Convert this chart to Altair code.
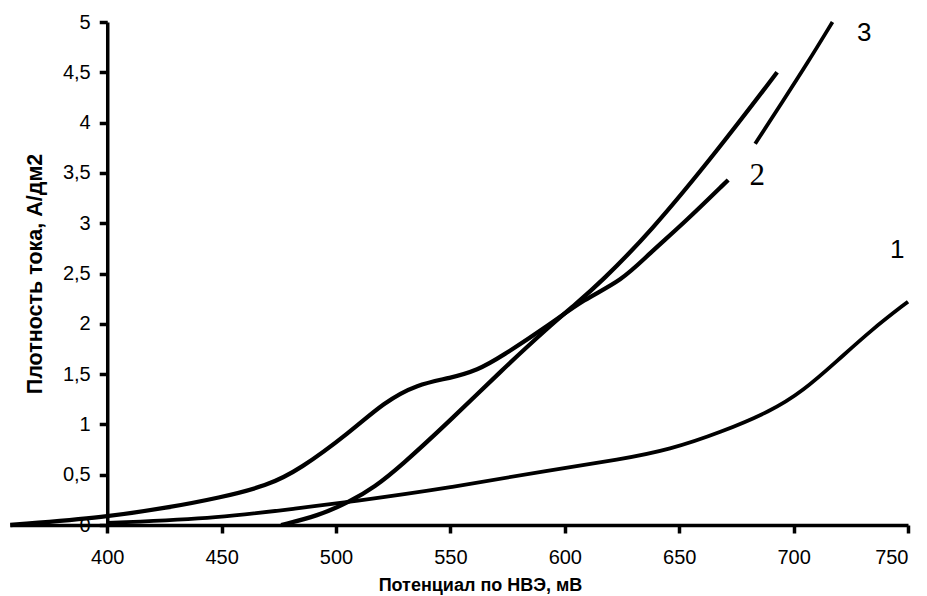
import altair as alt
import pandas as pd

# Curve 1
c1_x = [400, 450, 484, 506, 550, 594, 624, 646, 668, 690, 704, 719, 734, 750]
c1_y = [0.02, 0.07, 0.17, 0.23, 0.37, 0.55, 0.65, 0.75, 0.92, 1.13, 1.33, 1.63, 1.94, 2.22]

# Curve with shoulder (lower part, ends at label "2")
c2_x = [357.6, 400, 426, 449, 470, 484, 506, 521, 535.5, 550, 562, 572, 594, 608, 625, 637, 652, 671.4]
c2_y = [0.0, 0.08, 0.17, 0.27, 0.39, 0.55, 0.92, 1.22, 1.40, 1.46, 1.54, 1.67, 2.0, 2.24, 2.43, 2.70, 3.0, 3.43]

# Upper segment (label "3")
c3_x = [683.2, 695.5, 706, 717]
c3_y = [3.79, 4.22, 4.59, 5.0]

# Steep curve
c4_x = [476, 492, 506, 517, 528, 550, 572, 594, 605, 615.5, 637, 667, 692.8]
c4_y = [0.0, 0.09, 0.23, 0.38, 0.58, 1.04, 1.53, 1.99, 2.2, 2.41, 2.90, 3.73, 4.5]

x_ticks = [400, 450, 500, 550, 600, 650, 700, 750]
y_ticks = [0, 0.5, 1, 1.5, 2, 2.5, 3, 3.5, 4, 4.5, 5]

sans_labels = ["1", "3"]
sans_x = [745.3, 730.9]
sans_y = [2.73, 4.89]
serif_labels = ["2"]
serif_x = [684.1]
serif_y = [3.47]

X_MIN, X_MAX = 357.5, 750
W, H = 898, 503

rows = []
for name, xs, ys, sw in [("1", c1_x, c1_y, 3.8), ("2", c2_x, c2_y, 4.3),
                         ("3", c3_x, c3_y, 3.8), ("4", c4_x, c4_y, 4.3)]:
    for xv, yv in zip(xs, ys):
        rows.append({"series": name, "x": xv, "y": yv, "sw": sw})
df = pd.DataFrame(rows)

xscale = alt.Scale(domain=[X_MIN, X_MAX], nice=False, zero=False)
yscale = alt.Scale(domain=[0, 5], nice=False)

y_offset = -(400 - X_MIN) / (X_MAX - X_MIN) * W

x_axis = alt.Axis(
    values=x_ticks, title="Потенциал по НВЭ, мВ", grid=False,
    domainColor="black", domainWidth=3.5,
    tickColor="black", tickWidth=3.5, tickSize=8,
    labelFont="Liberation Sans", labelFontSize=20, labelColor="black", labelPadding=14,
    titleFont="Liberation Sans", titleFontSize=18, titleFontWeight="bold", titleColor="black",
    titleX=470, titleY=60, titleBaseline="middle", titleAlign="center",
)
y_axis = alt.Axis(
    values=y_ticks, title="Плотность тока, А/дм2", grid=False, offset=y_offset,
    domainColor="black", domainWidth=3.5,
    tickColor="black", tickWidth=3.5, tickSize=8,
    labelFont="Liberation Sans", labelFontSize=20, labelColor="black", labelPadding=9,
    labelExpr="replace(toString(datum.value), '.', ',')",
    titleFont="Liberation Sans", titleFontSize=21.5, titleFontWeight="bold", titleColor="black",
    titleX=-72, titleY=H / 2, titleBaseline="middle", titleAlign="center", titleAngle=-90,
)

lines = alt.Chart(df).mark_line(interpolate="basis", color="black", strokeCap="butt").encode(
    x=alt.X("x:Q", scale=xscale, axis=x_axis),
    y=alt.Y("y:Q", scale=yscale, axis=y_axis),
    detail="series:N",
    strokeWidth=alt.StrokeWidth("sw:Q", scale=None),
    order="x:Q",
)

sans_df = pd.DataFrame({"t": sans_labels, "x": sans_x, "y": sans_y})
serif_df = pd.DataFrame({"t": serif_labels, "x": serif_x, "y": serif_y})

sans_text = alt.Chart(sans_df).mark_text(font="Liberation Sans", fontSize=26, color="black",
                                         align="center", baseline="middle").encode(
    x=alt.X("x:Q", scale=xscale), y=alt.Y("y:Q", scale=yscale), text="t:N")
serif_text = alt.Chart(serif_df).mark_text(font="Liberation Serif", fontSize=31, color="black",
                                           align="center", baseline="middle").encode(
    x=alt.X("x:Q", scale=xscale), y=alt.Y("y:Q", scale=yscale), text="t:N")

chart = alt.layer(lines, sans_text, serif_text).properties(
    width=W, height=H,
    autosize=alt.AutoSizeParams(type="none"),
    padding={"left": 10, "top": 22, "right": 19, "bottom": 71},
    background="white",
).configure_view(stroke=None)

chart.save("out.html", embed_options={"renderer": "svg", "actions": False})
